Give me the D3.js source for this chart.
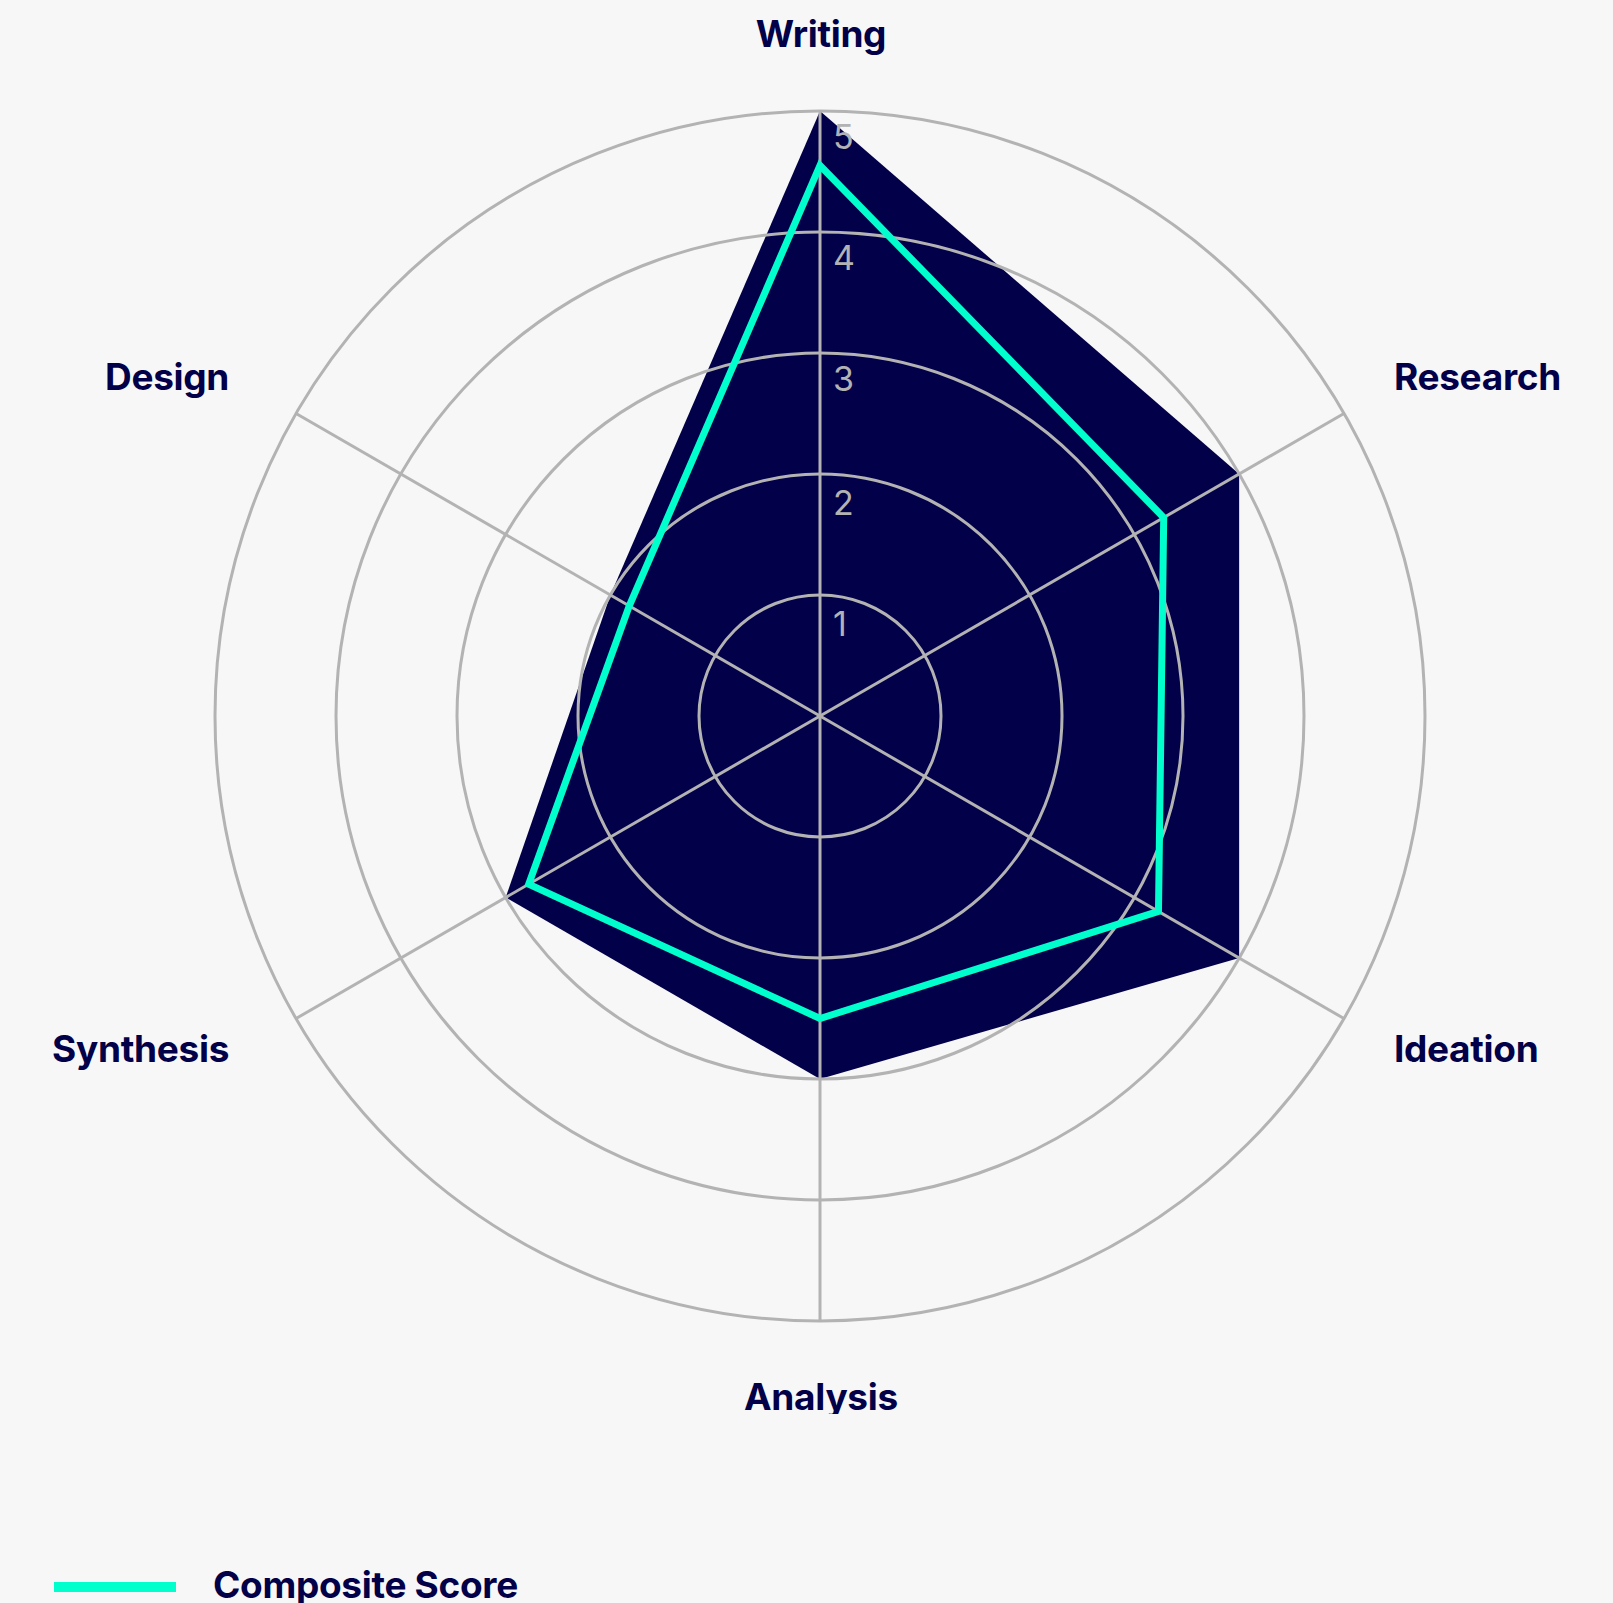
<!DOCTYPE html>
<html>
<head>
<meta charset="utf-8">
<script src="https://cdn.jsdelivr.net/npm/d3@7"></script>
<style>
  html, body { margin: 0; padding: 0; background: #f7f7f7; }
  svg { display: block; }
  text { font-family: Inter, "Noto Sans", sans-serif; }
</style>
</head>
<body>
<svg id="chart" width="1613" height="1603"></svg>
<script>
// Skill axes, clockwise from the top
const skills = ["Writing", "Research", "Ideation", "Analysis", "Synthesis", "Design"];
// Filled target profile
const targetValues = [5, 4, 4, 3, 3, 2];
// Composite score per skill
const compositeValues = [4.55, 3.28, 3.23, 2.5, 2.78, 1.82];
// Radial tick labels
const tickValues = [1, 2, 3, 4, 5];
const seriesName = "Composite Score";

const W = 1613, H = 1603;
const cx = 820, cy = 716, R = 605;
const navy = "#020048", teal = "#00ffcc", grid = "#b3b3b3";

const svg = d3.select("#chart");
svg.append("rect").attr("width", W).attr("height", H).attr("fill", "#f7f7f7");

const defs = svg.append("defs");
defs.append("clipPath").attr("id", "plotClip")
  .append("rect").attr("x", 0).attr("y", 0).attr("width", W).attr("height", 1414);

const r = d3.scaleLinear().domain([0, 5]).range([0, R]);
const angle = d3.scalePoint().domain(skills).range([0, 2 * Math.PI * (skills.length - 1) / skills.length]);

const root = svg.append("g").attr("clip-path", "url(#plotClip)");
const g = root.append("g").attr("transform", `translate(${cx},${cy})`);

const radial = d3.lineRadial()
  .angle((d, i) => angle(skills[i]))
  .radius(d => r(d))
  .curve(d3.curveLinearClosed);

// target area
g.append("path")
  .attr("d", radial(targetValues))
  .attr("fill", navy);

// rings
g.selectAll("circle.ring").data(tickValues).join("circle")
  .attr("class", "ring")
  .attr("r", d => r(d))
  .attr("fill", "none")
  .attr("stroke", grid)
  .attr("stroke-width", 3);

// spokes
g.selectAll("line.spoke").data(skills).join("line")
  .attr("class", "spoke")
  .attr("x1", 0).attr("y1", 0)
  .attr("x2", d => r(5) * Math.sin(angle(d)))
  .attr("y2", d => -r(5) * Math.cos(angle(d)))
  .attr("stroke", grid)
  .attr("stroke-width", 3);

// tick labels along the top spoke
g.selectAll("text.tick").data(tickValues).join("text")
  .attr("class", "tick")
  .attr("x", 13)
  .attr("y", d => -r(d) + 38 + (d <= 2 ? 3 : 0))
  .attr("fill", grid)
  .attr("font-size", 34)
  .text(d => d);

// composite line
g.append("path")
  .attr("d", radial(compositeValues))
  .attr("fill", "none")
  .attr("stroke", teal)
  .attr("stroke-width", 7)
  .attr("stroke-linejoin", "miter");

// axis labels
const labelR = R + 60;
g.selectAll("text.axis-label").data(skills).join("text")
  .attr("class", "axis-label")
  .each(function (d) {
    const a = angle(d);
    const sx = Math.sin(a), cy0 = -Math.cos(a);
    let x = labelR * sx, y = labelR * cy0, anchor = "middle";
    if (Math.abs(sx) < 1e-6) {
      y += cy0 < 0 ? -4 : 29;
      x += 1;
    } else {
      anchor = sx > 0 ? "start" : "end";
      y += cy0 < 0 ? 6 : 13;
      x += sx > 0 ? -2 : -15;
    }
    d3.select(this).attr("x", x).attr("y", y).attr("text-anchor", anchor);
  })
  .attr("fill", navy)
  .attr("font-size", 37)
  .attr("font-weight", 700)
  .attr("letter-spacing", -0.3)
  .text(d => d);

// legend
const legend = svg.append("g").attr("transform", "translate(54,1587)");
legend.append("line")
  .attr("x1", 0).attr("x2", 122).attr("y1", 0).attr("y2", 0)
  .attr("stroke", teal).attr("stroke-width", 10);
legend.append("text")
  .attr("x", 159).attr("y", 11)
  .attr("fill", navy)
  .attr("font-size", 37)
  .attr("font-weight", 700)
  .attr("letter-spacing", -0.3)
  .text(seriesName);
</script>
</body>
</html>
